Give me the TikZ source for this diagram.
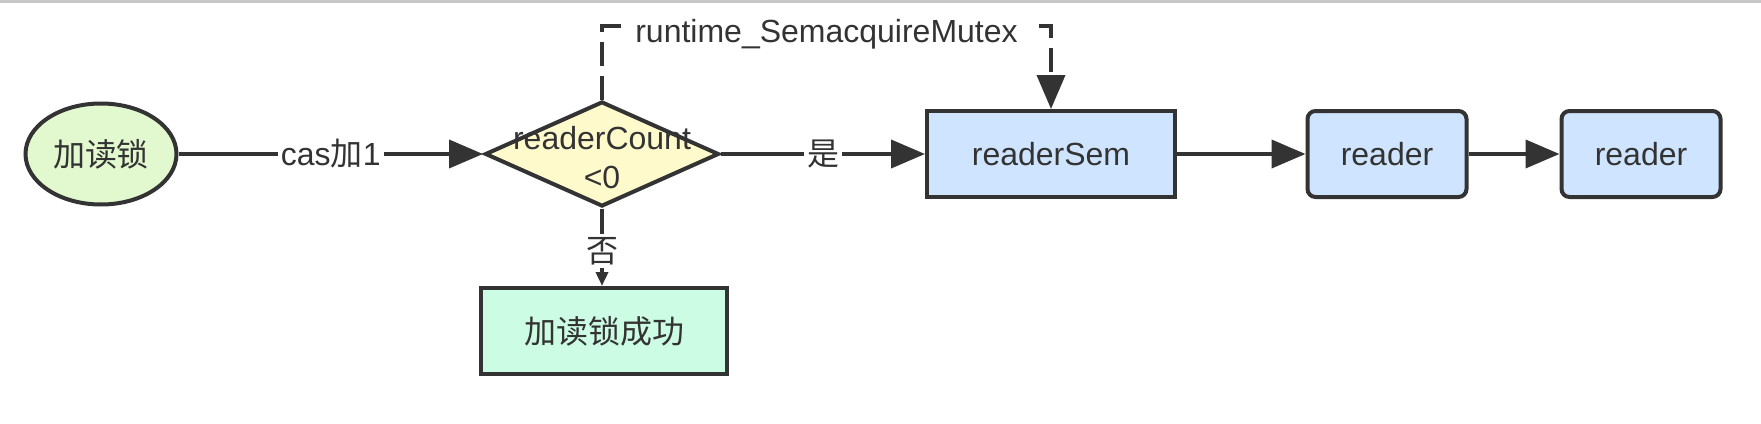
\documentclass[tikz,border=0pt]{standalone}
\usepackage{fontspec}
\setmainfont{Liberation Sans}
\newfontfamily\cjk{Noto Sans CJK SC}
\usetikzlibrary{shapes.geometric,arrows.meta}
\definecolor{stroke}{HTML}{333333}
\definecolor{startgreen}{HTML}{E2F8CF}
\definecolor{decyellow}{HTML}{FFFACC}
\definecolor{boxblue}{HTML}{CFE5FF}
\definecolor{okgreen}{HTML}{CCFCE4}
\begin{document}
\begin{tikzpicture}[x=0.5pt,y=-0.5pt,
  txt/.style={text=stroke, font=\fontsize{16}{18.5}\selectfont},
  base/.style={txt, draw=stroke, line width=2pt, inner sep=0pt},
  startnode/.style={base, ellipse, fill=startgreen, minimum width=75.5pt, minimum height=50.5pt},
  decision/.style={base, diamond, fill=decyellow, minimum width=117pt, minimum height=52.5pt},
  plainbox/.style={base, rectangle, minimum height=43pt},
  roundbox/.style={base, rectangle, rounded corners=4pt, fill=boxblue, minimum width=79.5pt, minimum height=43pt},
  conn/.style={draw=stroke, line width=2pt, -{Triangle[length=17pt,width=14pt]}},
  smallconn/.style={draw=stroke, line width=2pt, -{Triangle[length=7pt,width=6pt]}},
  lbl/.style={txt, fill=white, inner sep=1.5pt}
]
\useasboundingbox (0,0) rectangle (1761,423);
\draw[black!22, line width=1.5pt] (0,1) -- (1761,1);

\node[startnode] (s) at (101,154) {\cjk 加读锁};
\node[decision] (d) at (602,154) {};
\node[txt, align=center, inner sep=0pt] (dt) at (602,158) {readerCount\\[1pt]<0};
\node[plainbox, fill=boxblue, minimum width=124pt] (rs) at (1051,154) {readerSem};
\node[roundbox] (r1) at (1387,154) {reader};
\node[roundbox] (r2) at (1641,154) {reader};
\node[plainbox, fill=okgreen, minimum width=123pt] (ok) at (604,331) {\cjk 加读锁成功};

\coordinate (c1) at (602,26);
\coordinate (c2) at (1051,26);

\draw[conn] (s) -- node[lbl] {cas{\cjk 加}1} (d);
\draw[conn] (d) -- node[lbl] {\cjk 是} (rs);
\draw[conn] (rs) -- (r1);
\draw[conn] (r1) -- (r2);
\draw[smallconn] (d.south) -- node[lbl, pos=0.55] {\cjk 否} (d.south |- ok.north);
\draw[conn, dash pattern=on 12pt off 5pt] (d.north) -- (c1) -- node[lbl, inner xsep=6pt, yshift=-4pt] {runtime\_SemacquireMutex} (c2) -- (rs.north);
\end{tikzpicture}
\end{document}
